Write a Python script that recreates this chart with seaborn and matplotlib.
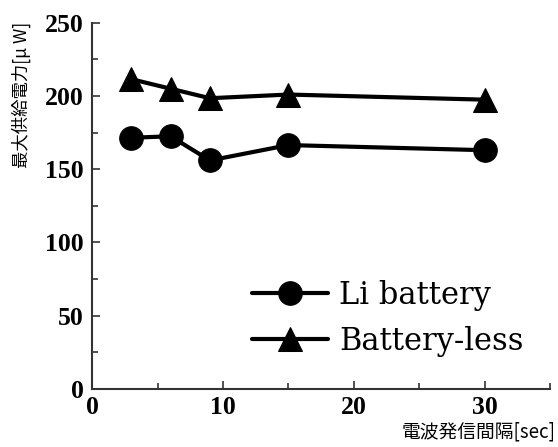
import numpy as np
import pandas as pd
import seaborn as sns
import matplotlib
matplotlib.use("Agg")
import matplotlib.pyplot as plt
from matplotlib.ticker import MultipleLocator

# data
interval_sec = [3, 6, 9, 15, 30]
li_battery = [171.5, 172.5, 156, 166.5, 163]
battery_less = [211.5, 205, 198.5, 201, 197.5]
series_names = ["Li battery", "Battery-less"]

df = pd.DataFrame({
    "interval": interval_sec * 2,
    "power": li_battery + battery_less,
    "series": [series_names[0]] * len(interval_sec) + [series_names[1]] * len(interval_sec),
})

sns.set_style("ticks")
plt.rcParams["font.family"] = ["Liberation Serif", "DejaVu Serif"]
plt.rcParams["text.color"] = "black"
plt.rcParams["xtick.labelcolor"] = "black"
plt.rcParams["ytick.labelcolor"] = "black"

fig = plt.figure(figsize=(5.58, 4.47), dpi=100)
ax = fig.add_axes([0.165, 0.130, 0.821, 0.819])

sns.lineplot(data=df, x="interval", y="power", style="series", hue="series",
             palette=["black", "black"], markers=["o", "^"], dashes=False,
             markersize=17, linewidth=3, markeredgecolor="black", ax=ax)

ax.set_xlim(0, 35)
ax.set_ylim(0, 250)
ax.xaxis.set_major_locator(MultipleLocator(10))
ax.xaxis.set_minor_locator(MultipleLocator(5))
ax.yaxis.set_major_locator(MultipleLocator(50))
ax.yaxis.set_minor_locator(MultipleLocator(25))
ax.tick_params(which="both", direction="in", width=1.2, color="#333333",
               labelcolor="black")
ax.tick_params(which="major", length=6, labelsize=18.5)
ax.tick_params(axis="y", which="major", pad=6)
ax.tick_params(axis="x", which="major", pad=5)
ax.tick_params(which="minor", length=4)
for lab in ax.get_xticklabels() + ax.get_yticklabels():
    lab.set_fontweight("bold")
for side in ["top", "right"]:
    ax.spines[side].set_visible(False)
for side in ["left", "bottom"]:
    ax.spines[side].set_linewidth(1.5)
    ax.spines[side].set_color("#333333")

ax.set_xlabel("")
ax.set_ylabel("")
cjk = ["Noto Sans CJK JP", "DejaVu Sans"]
fig.text(0.039, 0.787, "最大供給電力[μ W]", rotation=90, ha="center", va="center",
         fontsize=12.5, family=cjk, color="black")
fig.text(0.996, 0.033, "電波発信間隔[sec]", ha="right", va="center",
         fontsize=13.5, family=cjk, color="black")

handles, labels = ax.get_legend_handles_labels()
ax.legend(handles, labels, loc="center left", bbox_to_anchor=(0.4516, 0.2875),
          bbox_transform=fig.transFigure,
          frameon=False, prop={"family": "DejaVu Serif", "size": 22},
          handlelength=2.5, handletextpad=0.36,
          labelspacing=0.5, borderpad=0, borderaxespad=0)

fig.savefig("out.png", dpi=100)
